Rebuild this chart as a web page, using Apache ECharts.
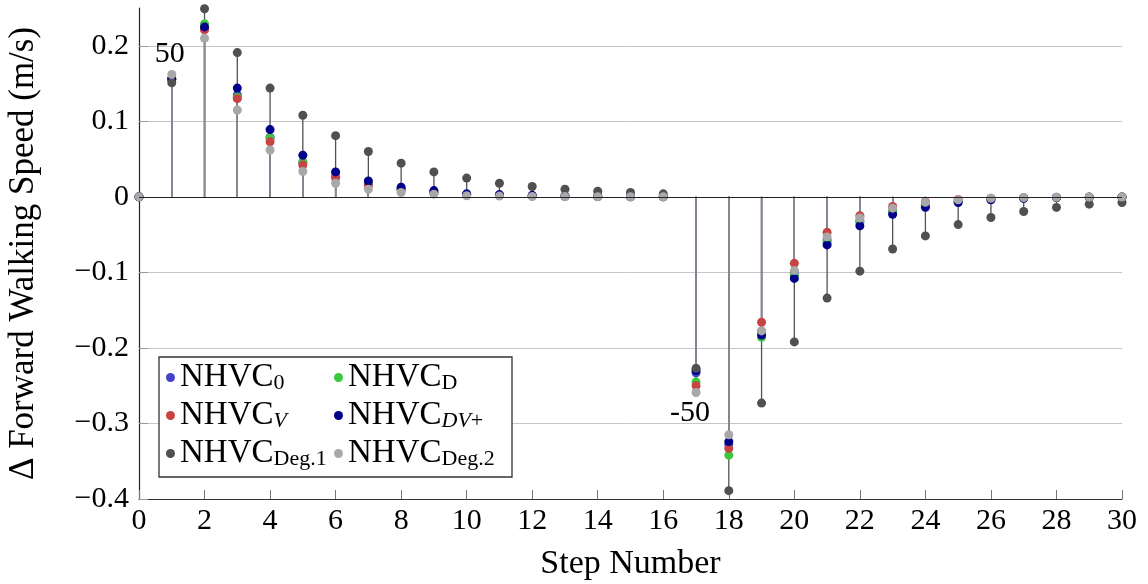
<!DOCTYPE html>
<html>
<head>
<meta charset="utf-8">
<script src="https://cdn.jsdelivr.net/npm/echarts@6/dist/echarts.min.js"></script>
<style>html,body{margin:0;padding:0;background:#fff;}#c{width:1148px;height:584px;}</style>
</head>
<body>
<div id="c"></div>
<script>
const steps = [0,1,2,3,4,5,6,7,8,9,10,11,12,13,14,15,16,17,18,19,20,21,22,23,24,25,26,27,28,29,30];

const nhvc0 = [0,0.156,0.223,0.135,0.0785,0.0455,0.028,0.017,0.010,0.006,0.0035,0.002,0.0012,0.0007,0.0004,0.0002,0.0001,-0.233,-0.328,-0.178,-0.100,-0.057,-0.032,-0.018,-0.010,-0.0055,-0.003,-0.0016,-0.0009,-0.0005,-0.0003];
const nhvcD = [0,0.156,0.229,0.132,0.078,0.046,0.028,0.017,0.010,0.006,0.0035,0.002,0.0012,0.0007,0.0004,0.0002,0.0001,-0.245,-0.342,-0.186,-0.104,-0.060,-0.034,-0.019,-0.011,-0.006,-0.0033,-0.0018,-0.001,-0.0006,-0.0003];
const nhvcV = [0,0.156,0.221,0.130,0.073,0.042,0.025,0.015,0.009,0.005,0.003,0.002,0.001,0.0006,0.0004,0.0002,0.0001,-0.250,-0.333,-0.166,-0.088,-0.047,-0.025,-0.0128,-0.0065,-0.0035,-0.0018,-0.001,-0.0005,-0.0003,-0.0002];
const nhvcDV = [0,0.156,0.225,0.144,0.089,0.055,0.033,0.021,0.0128,0.0083,0.004,0.003,0.002,0.001,0.0007,0.0005,0.0003,-0.230,-0.324,-0.183,-0.108,-0.0636,-0.0384,-0.023,-0.0137,-0.0075,-0.004,-0.002,-0.001,-0.0007,-0.0004];
const nhvcDeg1 = [0,0.151,0.249,0.191,0.144,0.108,0.081,0.060,0.0446,0.033,0.0248,0.018,0.0137,0.010,0.0075,0.0057,0.004,-0.227,-0.389,-0.273,-0.192,-0.134,-0.0984,-0.069,-0.0517,-0.0367,-0.0274,-0.0194,-0.014,-0.0097,-0.0075];
const nhvcDeg2 = [0,0.162,0.210,0.115,0.062,0.0335,0.018,0.010,0.0057,0.0036,0.0015,0.001,0.0005,0.0003,0.0002,0.0001,0.0001,-0.259,-0.315,-0.1775,-0.0976,-0.053,-0.028,-0.015,-0.0073,-0.004,-0.0018,-0.001,-0.0005,-0.0003,-0.0002];

const seriesNames = ['NHVC_0','NHVC_D','NHVC_V','NHVC_DV+','NHVC_Deg.1','NHVC_Deg.2'];
const seriesValues = [nhvc0, nhvcD, nhvcV, nhvcDV, nhvcDeg1, nhvcDeg2];
const seriesColors = ['#4343c8','#3cc83c','#c84343','#00008a','#505050','#a8a8a8'];
const stemColors = ['#7a7a8c','#7a7a8c','#7a7a8c','#7a7a8c','#525252','#8a8a96'];
const legendLabels = {
  'NHVC_0': '{m|NHVC}{s|0}',
  'NHVC_D': '{m|NHVC}{s|D}',
  'NHVC_V': '{m|NHVC}{si|V}',
  'NHVC_DV+': '{m|NHVC}{si|DV}{s|+}',
  'NHVC_Deg.1': '{m|NHVC}{s|Deg.1}',
  'NHVC_Deg.2': '{m|NHVC}{s|Deg.2}'
};
// annotations: [series index, step, text, side]
const annotations = [[5, 1, '50', 'top'], [5, 17, '-50', 'bottom']];

const xTicks = {min: 0, max: 30, interval: 2};
const yTicks = {min: -0.4, max: 0.25, interval: 0.1};

const FONT = 'Liberation Serif';
const rich = {
  m: {fontFamily: FONT, fontSize: 33, lineHeight: 34, color: '#000'},
  s: {fontFamily: FONT, fontSize: 22, lineHeight: 18, verticalAlign: 'bottom', color: '#000'},
  si: {fontFamily: FONT, fontSize: 22, lineHeight: 18, verticalAlign: 'bottom', fontStyle: 'italic', color: '#000'}
};

const series = [];
// stems
seriesValues.forEach((vals, i) => {
  series.push({
    type: 'custom',
    name: 'stem' + i,
    z: i === 4 ? 1 : 2,
    silent: true,
    data: steps.map((s, k) => [s, vals[k]]),
    encode: {x: 0, y: 1},
    renderItem: function (params, api) {
      const p0 = api.coord([api.value(0), 0]);
      const p1 = api.coord([api.value(0), api.value(1)]);
      return {type: 'line', shape: {x1: p0[0], y1: p0[1], x2: p1[0], y2: p1[1]},
        style: {stroke: stemColors[i], lineWidth: 1.3}};
    },
    markLine: i === 0 ? {silent: true, symbol: 'none', label: {show: false},
      lineStyle: {color: '#222', width: 1.2, type: 'solid'}, data: [{yAxis: 0}]} : undefined
  });
});
// points
seriesValues.forEach((vals, i) => {
  series.push({
    type: 'scatter',
    name: seriesNames[i],
    z: 3,
    symbol: 'circle',
    symbolSize: 9,
    itemStyle: {color: seriesColors[i], opacity: 1},
    data: steps.map((s, k) => {
      const ann = annotations.find(a => a[0] === i && a[1] === s);
      if (ann) {
        return {value: [s, vals[k]], label: {show: true, formatter: ann[2], position: ann[3],
          distance: 1, offset: ann[3] === 'top' ? [-2, 0] : [-6, 0],
          fontFamily: FONT, fontSize: 30, lineHeight: 30, color: '#000'}};
      }
      return [s, vals[k]];
    })
  });
});

const chart = echarts.init(document.getElementById('c'), null, {renderer: 'canvas'});
chart.setOption({
  animation: false,
  backgroundColor: '#fff',
  grid: {left: 139, right: 26, top: 8, bottom: 85, containLabel: false, outerBoundsMode: 'none'},
  xAxis: {
    type: 'value', min: xTicks.min, max: xTicks.max, interval: xTicks.interval,
    name: 'Step Number', nameLocation: 'middle', nameGap: 48,
    nameTextStyle: {fontFamily: FONT, fontSize: 34, color: '#000'},
    axisLine: {onZero: false, lineStyle: {color: '#333', width: 1.2}},
    axisTick: {inside: true, length: 9, lineStyle: {color: '#777', width: 1}},
    axisLabel: {fontFamily: FONT, fontSize: 30, color: '#000', margin: 7},
    splitLine: {show: false}
  },
  yAxis: {
    type: 'value', min: yTicks.min, max: yTicks.max, interval: yTicks.interval,
    name: 'Δ Forward Walking Speed (m/s)', nameLocation: 'middle', nameGap: 98,
    nameTextStyle: {fontFamily: FONT, fontSize: 35, color: '#000'},
    axisLine: {show: true, lineStyle: {color: '#222', width: 1.2}},
    axisTick: {inside: true, length: 9, lineStyle: {color: '#999', width: 1}},
    axisLabel: {fontFamily: FONT, fontSize: 30, color: '#000', margin: 10,
      showMaxLabel: false,
      formatter: function (v) {
        if (Math.abs(v - yTicks.max) < 1e-9) return '';
        const r = Math.round(v * 10) / 10;
        if (r === 0) return '0';
        return (r < 0 ? '\u2212' : '') + Math.abs(r).toFixed(1);
      }},
    splitLine: {show: true, showMaxLine: false, showMinLine: false, lineStyle: {color: '#c6c6c6', width: 1}}
  },
  graphic: [{
    type: 'rect', z: 10, silent: true,
    shape: {x: 159, y: 357, width: 353, height: 120},
    style: {fill: '#fff', stroke: '#333', lineWidth: 1.3}
  }],
  legend: [
    {
      z: 20, orient: 'vertical', left: 166, top: 361, padding: 0, itemGap: 4.5,
      itemWidth: 9, itemHeight: 9, icon: 'circle', itemStyle: {opacity: 1},
      data: [seriesNames[0], seriesNames[2], seriesNames[4]],
      formatter: n => legendLabels[n],
      textStyle: {rich: rich}, selectedMode: false
    },
    {
      z: 20, orient: 'vertical', left: 334, top: 361, padding: 0, itemGap: 4.5,
      itemWidth: 9, itemHeight: 9, icon: 'circle',
      data: [seriesNames[1], seriesNames[3], seriesNames[5]],
      formatter: n => legendLabels[n],
      textStyle: {rich: rich}, selectedMode: false
    }
  ],
  series: series
});
</script>
</body>
</html>
